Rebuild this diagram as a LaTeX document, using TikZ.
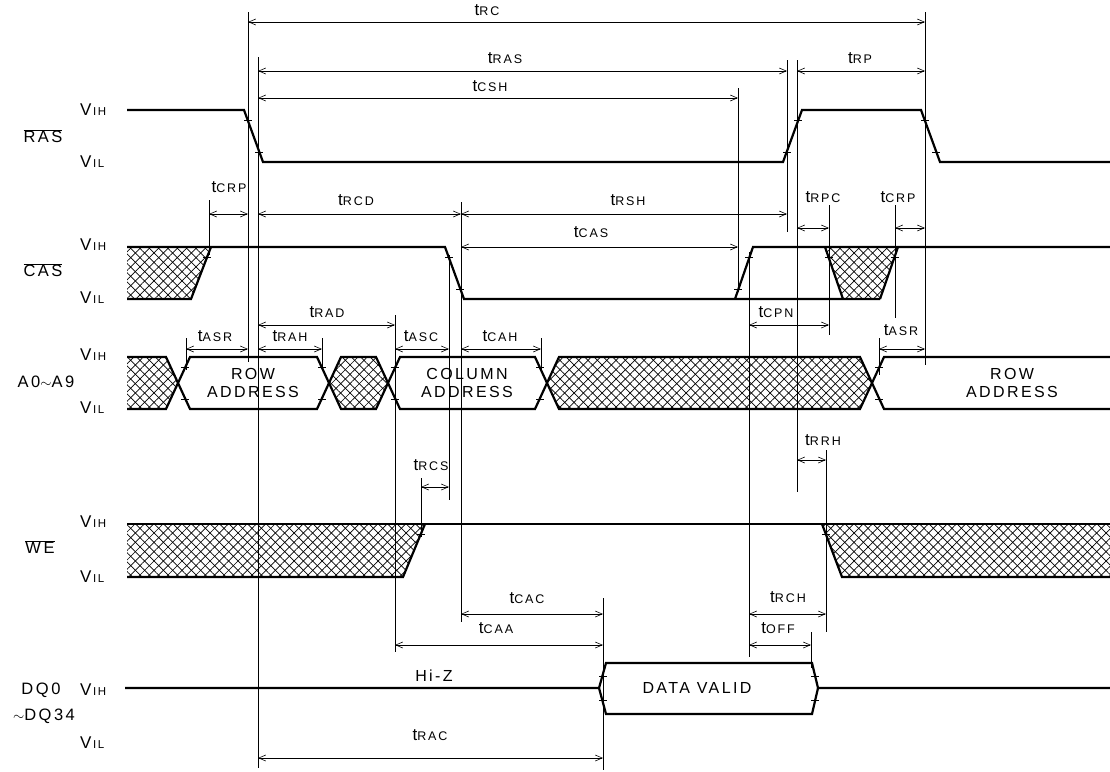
\documentclass[tikz,border=0pt]{standalone}
\usepackage{fontspec}
\setmainfont{Liberation Sans}
\newfontfamily\spc[LetterSpace=15]{Liberation Sans}
\usetikzlibrary{arrows.meta,patterns.meta}
\newcommand\tsub[1]{{\fontsize{17}{17}\selectfont t}{\spc\fontsize{12.5}{12.5}\selectfont #1}}
\newcommand\vlev[1]{{\fontsize{17}{17}\selectfont V}\kern1.5pt{\spc\fontsize{11.5}{11.5}\selectfont #1}}
\tikzset{
  sig/.style={line width=2.2pt,line join=miter},
  refl/.style={line width=0.5pt},
  dimarr/.style={line width=0.6pt,{Straight Barb[length=7pt,width=6pt]}-{Straight Barb[length=7pt,width=6pt]}},
  lab/.style={inner sep=0pt,anchor=center},
  boxtxt/.style={inner sep=0pt,align=center,font=\spc\fontsize{16}{18}\selectfont},
  sigtxt/.style={inner sep=0pt,font=\spc\fontsize{16.5}{16.5}\selectfont},
  xh/.style={pattern={Lines[angle=45,distance=6.6pt,line width=0.7pt]},
             postaction={pattern={Lines[angle=-45,distance=6.6pt,line width=0.7pt]}}},
  tk/.style={line width=0.8pt},
}
\newcommand\dimline[7]{%
  \coordinate (#1-l) at (#2,#4);
  \coordinate (#1-r) at (#3,#4);
  \draw[dimarr] (#1-l) -- (#1-r);
  \node[lab] (#1-t) at (#6,#7) {\tsub{#5}};}
\newcommand\vref[4]{%
  \coordinate (#1-a) at (#2,#3);
  \coordinate (#1-b) at (#2,#4);
  \draw[refl] (#1-a) -- (#1-b);}
\newcommand\tick[2]{\draw[tk] (#1-4,#2) -- (#1+4,#2);}
\begin{document}
\begin{tikzpicture}[x=1pt,y=-1pt]
\useasboundingbox (0,0) rectangle (1110,771);
% ---------- hatched regions
\path[xh] (127,247) -- (211,247) -- (191,299) -- (127,299) -- cycle;
\path[xh] (825,247) -- (898,247) -- (880,299) -- (843,299) -- cycle;
\path[xh] (127,357) -- (166,357) -- (178,383) -- (166,409) -- (127,409) -- cycle;
\path[xh] (329,383) -- (341,357) -- (376,357) -- (388,383) -- (376,409) -- (341,409) -- cycle;
\path[xh] (547,383) -- (559,357) -- (860,357) -- (872,383) -- (860,409) -- (559,409) -- cycle;
\path[xh] (127,524) -- (425,524) -- (403,577) -- (127,577) -- cycle;
\path[xh] (822,524) -- (1110,524) -- (1110,577) -- (842,577) -- cycle;
% ---------- signal traces
% RAS
\draw[sig] (127,110) -- (244,110) -- (263,162) -- (783,162) -- (802,110) -- (921,110) -- (940,162) -- (1110,162);
% CAS
\draw[sig] (127,247) -- (445,247) -- (464,299) -- (880,299);
\draw[sig] (127,299) -- (191,299) -- (211,247);
\draw[sig] (735,299) -- (753,247) -- (1110,247);
\draw[sig] (825,247) -- (843,299);
\draw[sig] (880,299) -- (898,247);
% A0-A9
\draw[sig] (127,357) -- (166,357) -- (190,409) -- (317,409) -- (341,357) -- (376,357) -- (400,409) -- (535,409) -- (559,357) -- (860,357) -- (884,409) -- (1110,409);
\draw[sig] (127,409) -- (166,409) -- (190,357) -- (317,357) -- (341,409) -- (376,409) -- (400,357) -- (535,357) -- (559,409) -- (860,409) -- (884,357) -- (1110,357);
% WE
\draw[sig] (127,524) -- (1110,524);
\draw[sig] (127,577) -- (403,577) -- (425,524);
\draw[sig] (822,524) -- (842,577) -- (1110,577);
% DQ
\draw[sig] (125,688) -- (599,688) -- (606,663) -- (812,663) -- (818,688) -- (1110,688);
\draw[sig] (599,688) -- (606,714) -- (812,714) -- (818,688);
% ---------- ticks
\tick{248}{120} \tick{259}{152}
\tick{787}{152} \tick{798}{120}
\tick{925}{120} \tick{936}{152}
\tick{207}{257}
\tick{449}{257} \tick{460}{289}
\tick{738}{289} \tick{749}{257}
\tick{829}{257} \tick{895}{257}
\tick{185}{367} \tick{185}{399}
\tick{322}{367} \tick{322}{399}
\tick{395}{367} \tick{395}{399}
\tick{540}{367} \tick{540}{399}
\tick{879}{367} \tick{879}{399}
\tick{421}{534} \tick{826}{534}
\tick{603}{676} \tick{603}{700}
\tick{815}{676} \tick{815}{700}
% ---------- reference lines
\vref{r248}{248}{12}{362}
\vref{r258}{258}{57}{768}
\vref{r738}{738}{88}{292}
\vref{r787}{787}{60}{232}
\vref{r797}{797}{60}{492}
\vref{r925}{925}{12}{365}
\vref{r209}{209}{200}{255}
\vref{r461}{461}{202}{622}
\vref{r749}{749}{252}{657}
\vref{r829}{829}{205}{335}
\vref{r895}{895}{205}{318}
\vref{r186}{186}{338}{370}
\vref{r322}{322}{338}{370}
\vref{r395}{395}{315}{652}
\vref{r449}{449}{255}{500}
\vref{r541}{541}{338}{372}
\vref{r879}{879}{338}{375}
\vref{r421}{421}{478}{537}
\vref{r826}{826}{450}{632}
\vref{r603}{603}{598}{770}
\vref{r811}{811}{632}{668}
% ---------- dimension arrows
\dimline{rc}{248}{925}{22}{RC}{487}{10}
\dimline{ras}{258}{787}{71}{RAS}{505}{58}
\dimline{rp}{797}{925}{71}{RP}{860}{58}
\dimline{csh}{258}{738}{98}{CSH}{490}{86}
\dimline{crpa}{209}{248}{214}{CRP}{229}{187}
\dimline{rcd}{258}{461}{214}{RCD}{356}{200}
\dimline{rsh}{461}{787}{214}{RSH}{628}{200}
\dimline{rpc}{797}{829}{228}{RPC}{823}{197}
\dimline{crpb}{895}{925}{228}{CRP}{898}{197}
\dimline{cas}{461}{738}{247}{CAS}{591}{232}
\dimline{rad}{258}{395}{325}{RAD}{327}{312}
\dimline{cpn}{749}{829}{325}{CPN}{776}{312}
\dimline{asra}{186}{248}{349}{ASR}{215}{336}
\dimline{rah}{258}{322}{349}{RAH}{290}{336}
\dimline{asc}{395}{449}{349}{ASC}{421}{336}
\dimline{cah}{461}{541}{349}{CAH}{500}{336}
\dimline{asrb}{879}{925}{349}{ASR}{901}{330}
\dimline{rcs}{421}{449}{487}{RCS}{431}{465}
\dimline{rrh}{797}{826}{460}{RRH}{823}{440}
\dimline{cac}{461}{603}{614}{CAC}{527}{598}
\dimline{rch}{749}{826}{614}{RCH}{788}{597}
\dimline{caa}{395}{603}{645}{CAA}{496}{628}
\dimline{off}{749}{811}{645}{OFF}{778}{628}
\dimline{rac}{258}{603}{758}{RAC}{430}{735}
% ---------- texts in traces
\node[boxtxt] (rowa) at (253,383) {ROW\\ADDRESS};
\node[boxtxt] (cola) at (467,383) {COLUMN\\ADDRESS};
\node[boxtxt] (rowb) at (1012,383) {ROW\\ADDRESS};
\node[boxtxt] (dv) at (697,688) {DATA VALID};
\node[boxtxt] (hiz) at (434,676) {Hi-Z};
% ---------- signal names and levels
\node[sigtxt] (nras) at (43,136) {$\overline{\mbox{RAS}}$};
\node[sigtxt] (ncas) at (43,270) {$\overline{\mbox{CAS}}$};
\node[sigtxt] (nadr) at (46,382) {A0{\Large$\sim$}A9};
\node[sigtxt] (nwe) at (40,547) {$\overline{\mbox{WE}}$};
\node[sigtxt] (ndq0) at (41,690) {DQ\,0};
\node[sigtxt] (ndq34) at (44,716) {{\Large$\sim$}DQ34};
\node[lab,anchor=west] (h1) at (80,110) {\vlev{IH}};
\node[lab,anchor=west] (l1) at (80,162) {\vlev{IL}};
\node[lab,anchor=west] (h2) at (80,245) {\vlev{IH}};
\node[lab,anchor=west] (l2) at (80,298) {\vlev{IL}};
\node[lab,anchor=west] (h3) at (80,355) {\vlev{IH}};
\node[lab,anchor=west] (l3) at (80,408) {\vlev{IL}};
\node[lab,anchor=west] (h4) at (80,522) {\vlev{IH}};
\node[lab,anchor=west] (l4) at (80,577) {\vlev{IL}};
\node[lab,anchor=west] (h5) at (80,690) {\vlev{IH}};
\node[lab,anchor=west] (l5) at (80,743) {\vlev{IL}};
\end{tikzpicture}
\end{document}
